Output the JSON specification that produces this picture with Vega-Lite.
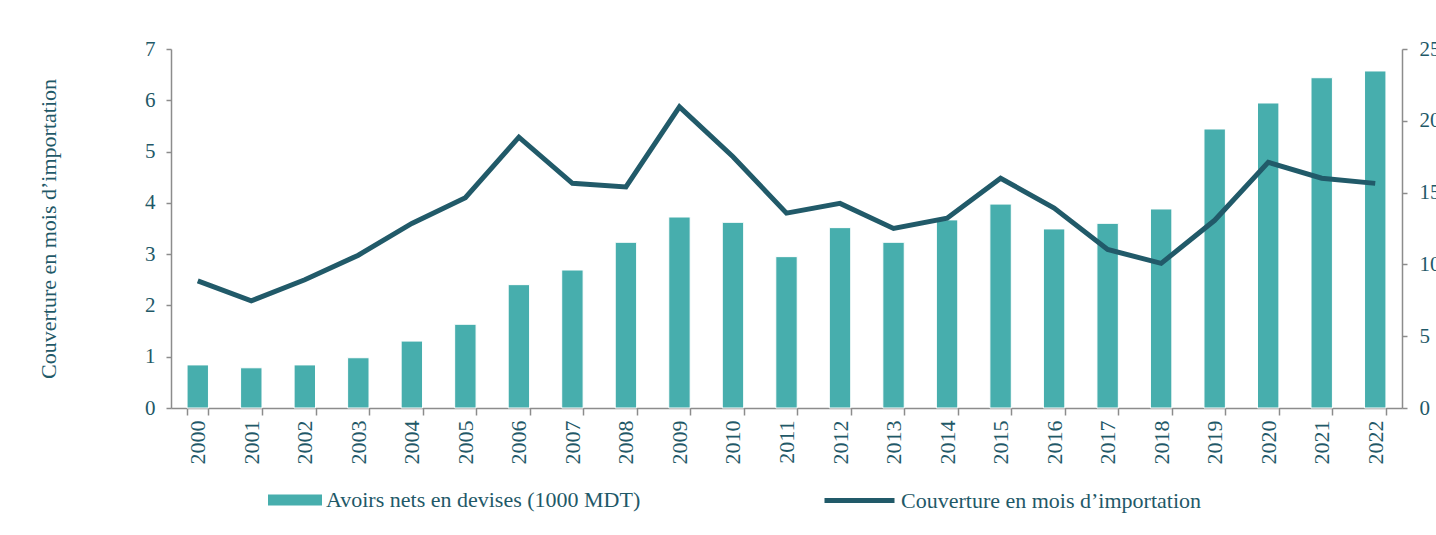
{
  "$schema": "https://vega.github.io/schema/vega-lite/v6.json",
  "width": 1231,
  "height": 359,
  "autosize": {"type": "none"},
  "padding": {"left": 171, "top": 49, "right": 34, "bottom": 127},
  "background": "white",
  "config": {
    "view": {"stroke": null},
    "font": "Liberation Serif",
    "axis": {
      "labelFont": "Liberation Serif",
      "titleFont": "Liberation Serif",
      "labelColor": "#1f5968",
      "titleColor": "#1f5968",
      "domainColor": "#8c8c8c",
      "tickColor": "#8c8c8c",
      "domainWidth": 1.5,
      "tickWidth": 1.5,
      "grid": false
    },
    "legend": {
      "labelFont": "Liberation Serif",
      "labelColor": "#1f5968",
      "labelLimit": 600
    }
  },
  "data": {
    "values": [
      {"annee": "2000", "avoirs": 3.0, "couverture": 2.48},
      {"annee": "2001", "avoirs": 2.8, "couverture": 2.09},
      {"annee": "2002", "avoirs": 3.0, "couverture": 2.5},
      {"annee": "2003", "avoirs": 3.5, "couverture": 2.98},
      {"annee": "2004", "avoirs": 4.66, "couverture": 3.6},
      {"annee": "2005", "avoirs": 5.83, "couverture": 4.1},
      {"annee": "2006", "avoirs": 8.59, "couverture": 5.28},
      {"annee": "2007", "avoirs": 9.61, "couverture": 4.38},
      {"annee": "2008", "avoirs": 11.54, "couverture": 4.31},
      {"annee": "2009", "avoirs": 13.3, "couverture": 5.87},
      {"annee": "2010", "avoirs": 12.93, "couverture": 4.9},
      {"annee": "2011", "avoirs": 10.54, "couverture": 3.8},
      {"annee": "2012", "avoirs": 12.56, "couverture": 3.99},
      {"annee": "2013", "avoirs": 11.54, "couverture": 3.5},
      {"annee": "2014", "avoirs": 13.1, "couverture": 3.7},
      {"annee": "2015", "avoirs": 14.2, "couverture": 4.48},
      {"annee": "2016", "avoirs": 12.47, "couverture": 3.9},
      {"annee": "2017", "avoirs": 12.86, "couverture": 3.09},
      {"annee": "2018", "avoirs": 13.86, "couverture": 2.82},
      {"annee": "2019", "avoirs": 19.43, "couverture": 3.66},
      {"annee": "2020", "avoirs": 21.24, "couverture": 4.79},
      {"annee": "2021", "avoirs": 23.0, "couverture": 4.48},
      {"annee": "2022", "avoirs": 23.47, "couverture": 4.38}
    ]
  },
  "encoding": {
    "x": {
      "field": "annee",
      "type": "ordinal",
      "scale": {"paddingInner": 0.6, "paddingOuter": 0.3},
      "axis": {
        "title": null,
        "labelAngle": -90,
        "labelFontSize": 22,
        "tickSize": 7,
        "labelPadding": 5,
        "tickBand": "extent"
      }
    }
  },
  "layer": [
    {
      "mark": {"type": "bar", "stroke": "white", "strokeWidth": 1},
      "encoding": {
        "y": {
          "field": "avoirs",
          "type": "quantitative",
          "scale": {"domain": [0, 25], "nice": false},
          "axis": {
            "orient": "right",
            "title": null,
            "values": [0, 5, 10, 15, 20, 25],
            "labelFontSize": 21,
            "tickSize": 5,
            "labelPadding": 12
          }
        },
        "fill": {
          "datum": "Avoirs nets en devises (1000 MDT)",
          "type": "nominal",
          "scale": {"range": ["#47aead"]},
          "legend": {
            "title": null,
            "orient": "none",
            "legendX": 97,
            "legendY": 424,
            "symbolType": "M-1,-0.2H1V0.2H-1Z",
            "symbolSize": 2916,
            "symbolStrokeWidth": 0,
            "labelFontSize": 22,
            "labelOffset": 4
          }
        }
      }
    },
    {
      "mark": {"type": "line", "strokeWidth": 5, "strokeJoin": "miter", "strokeCap": "butt"},
      "encoding": {
        "y": {
          "field": "couverture",
          "type": "quantitative",
          "scale": {"domain": [0, 7], "nice": false},
          "axis": {
            "orient": "left",
            "title": "Couverture en mois d’importation",
            "values": [0, 1, 2, 3, 4, 5, 6, 7],
            "labelFontSize": 21,
            "titleFontSize": 22,
            "titleFontWeight": "normal",
            "tickSize": 5,
            "labelPadding": 11,
            "titlePadding": 84
          }
        },
        "stroke": {
          "datum": "Couverture en mois d’importation",
          "type": "nominal",
          "scale": {"range": ["#215a69"]},
          "legend": {
            "title": null,
            "orient": "none",
            "legendX": 651,
            "legendY": 414,
            "symbolType": "stroke",
            "symbolSize": 4900,
            "symbolStrokeWidth": 5,
            "labelFontSize": 22,
            "labelOffset": 4
          }
        }
      }
    }
  ],
  "resolve": {"scale": {"y": "independent"}}
}
